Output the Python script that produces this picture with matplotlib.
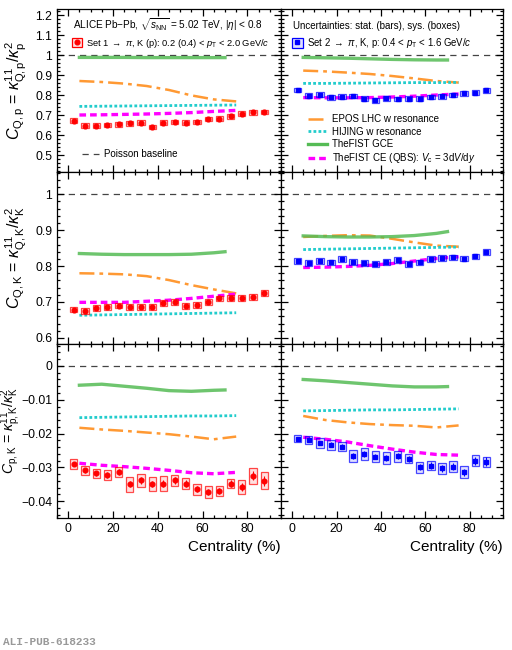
import matplotlib
matplotlib.use('Agg')
import matplotlib.pyplot as plt
from matplotlib.ticker import MultipleLocator
from matplotlib.patches import Rectangle
from matplotlib.lines import Line2D
from matplotlib.legend_handler import HandlerTuple

plt.rcParams['font.family'] = ['Liberation Sans', 'DejaVu Sans']
plt.rcParams['mathtext.fontset'] = 'custom'
plt.rcParams['mathtext.rm'] = 'Liberation Sans'
plt.rcParams['mathtext.it'] = 'Liberation Sans:italic'
plt.rcParams['mathtext.bf'] = 'Liberation Sans:bold'

# centrality bins 0-5 ... 85-90
cent = [2.5, 7.5, 12.5, 17.5, 22.5, 27.5, 32.5, 37.5, 42.5, 47.5,
        52.5, 57.5, 62.5, 67.5, 72.5, 77.5, 82.5, 87.5]
x_mod = [5, 15, 25, 35, 45, 55, 65, 75]
x_gce = [5, 15, 25, 35, 45, 55, 65, 70]

# ---- C_Q,p ----
qp1 = [0.672, 0.647, 0.647, 0.650, 0.653, 0.658, 0.662, 0.640, 0.662,
       0.665, 0.662, 0.665, 0.680, 0.682, 0.693, 0.707, 0.713, 0.715]
qp2 = [0.825, 0.797, 0.802, 0.788, 0.792, 0.795, 0.782, 0.773, 0.783,
       0.780, 0.782, 0.782, 0.790, 0.793, 0.800, 0.808, 0.812, 0.823]
qp_sys = [0.011] * 18
qp_stat = [0.003] * 18
epos_qp1 = [0.870, 0.865, 0.857, 0.845, 0.825, 0.798, 0.778, 0.768]
hijing_qp1 = [0.743, 0.744, 0.745, 0.746, 0.747, 0.748, 0.749, 0.750]
gce_qp1 = [0.988, 0.988, 0.988, 0.987, 0.987, 0.987, 0.987, 0.987]
ce_qp1 = [0.700, 0.701, 0.703, 0.705, 0.708, 0.712, 0.718, 0.723]
epos_qp2 = [0.922, 0.918, 0.912, 0.905, 0.895, 0.883, 0.870, 0.862]
hijing_qp2 = [0.858, 0.858, 0.859, 0.860, 0.861, 0.862, 0.862, 0.863]
gce_qp2 = [0.988, 0.986, 0.984, 0.981, 0.978, 0.976, 0.975, 0.975]
ce_qp2 = [0.787, 0.786, 0.786, 0.787, 0.790, 0.794, 0.800, 0.805]

# ---- C_Q,K ----
qk1 = [0.679, 0.675, 0.684, 0.686, 0.690, 0.687, 0.687, 0.687, 0.697,
       0.699, 0.689, 0.691, 0.701, 0.710, 0.711, 0.712, 0.713, 0.726]
qk2 = [0.814, 0.809, 0.815, 0.810, 0.820, 0.812, 0.809, 0.805, 0.812,
       0.816, 0.806, 0.810, 0.820, 0.822, 0.824, 0.821, 0.827, 0.839]
qk_sys = [0.008] * 18
qk_stat = [0.003] * 18
epos_qk1 = [0.780, 0.779, 0.777, 0.772, 0.761, 0.747, 0.735, 0.724]
hijing_qk1 = [0.663, 0.664, 0.665, 0.666, 0.667, 0.668, 0.669, 0.670]
gce_qk1 = [0.835, 0.833, 0.832, 0.832, 0.832, 0.833, 0.837, 0.840]
ce_qk1 = [0.699, 0.699, 0.699, 0.702, 0.705, 0.710, 0.716, 0.722]
epos_qk2 = [0.881, 0.884, 0.886, 0.885, 0.876, 0.866, 0.857, 0.854]
hijing_qk2 = [0.846, 0.847, 0.848, 0.849, 0.850, 0.851, 0.852, 0.853]
gce_qk2 = [0.884, 0.882, 0.881, 0.881, 0.882, 0.885, 0.891, 0.896]
ce_qk2 = [0.796, 0.797, 0.799, 0.802, 0.807, 0.814, 0.821, 0.826]

# ---- C_p,K ----
pk1 = [-0.0290, -0.0309, -0.0318, -0.0323, -0.0314, -0.0350, -0.0339, -0.0349, -0.0348,
       -0.0339, -0.0348, -0.0365, -0.0373, -0.0370, -0.0348, -0.0359, -0.0325, -0.0340]
pk1_sys = [0.0016, 0.0014, 0.0014, 0.0014, 0.0014, 0.0022, 0.0018, 0.0021, 0.0021,
           0.0017, 0.0016, 0.0016, 0.0017, 0.0016, 0.0013, 0.0021, 0.0023, 0.0025]
pk1_stat = [0.0007, 0.0008, 0.0008, 0.0008, 0.0008, 0.0009, 0.0009, 0.0009, 0.0009,
            0.0009, 0.0009, 0.0009, 0.0010, 0.0010, 0.0010, 0.0012, 0.0013, 0.0015]
pk2 = [-0.0215, -0.0218, -0.0228, -0.0233, -0.0239, -0.0266, -0.0261, -0.0268, -0.0272,
       -0.0267, -0.0275, -0.0300, -0.0295, -0.0303, -0.0298, -0.0315, -0.0280, -0.0283]
pk2_sys = [0.0011, 0.0012, 0.0014, 0.0015, 0.0013, 0.0017, 0.0018, 0.0017, 0.0018,
           0.0016, 0.0013, 0.0016, 0.0014, 0.0017, 0.0016, 0.0018, 0.0015, 0.0015]
pk2_stat = [0.0006, 0.0007, 0.0007, 0.0007, 0.0008, 0.0008, 0.0008, 0.0008, 0.0009,
            0.0009, 0.0009, 0.0009, 0.0010, 0.0010, 0.0010, 0.0011, 0.0012, 0.0013]
epos_pk1 = [-0.0183, -0.0188, -0.0192, -0.0197, -0.0202, -0.0209, -0.0217, -0.0209]
hijing_pk1 = [-0.0153, -0.0152, -0.0151, -0.0150, -0.0149, -0.0148, -0.0148, -0.0147]
gce_pk1 = [-0.0057, -0.0054, -0.0060, -0.0066, -0.0073, -0.0075, -0.0072, -0.0071]
ce_pk1 = [-0.0288, -0.0294, -0.0298, -0.0303, -0.0309, -0.0316, -0.0319, -0.0315]
epos_pk2 = [-0.0148, -0.0160, -0.0167, -0.0172, -0.0175, -0.0177, -0.0182, -0.0176]
hijing_pk2 = [-0.0133, -0.0132, -0.0131, -0.0130, -0.0130, -0.0129, -0.0128, -0.0127]
gce_pk2 = [-0.0040, -0.0044, -0.0049, -0.0054, -0.0059, -0.0062, -0.0062, -0.0061]
ce_pk2 = [-0.0211, -0.0217, -0.0225, -0.0236, -0.0246, -0.0255, -0.0262, -0.0264]

ylabels = [r'$C_{\rm Q,p}$ = $\kappa^{11}_{\rm Q,p}/\kappa^{2}_{\rm p}$',
           r'$C_{\rm Q,K}$ = $\kappa^{11}_{\rm Q,K}/\kappa^{2}_{\rm K}$',
           r'$C_{\rm p,K}$ = $\kappa^{11}_{\rm p,K}/\kappa^{2}_{\rm K}$']
ytick_vals = [[0.5, 0.6, 0.7, 0.8, 0.9, 1.0, 1.1, 1.2],
              [0.6, 0.7, 0.8, 0.9, 1.0],
              [-0.04, -0.03, -0.02, -0.01, 0.0]]
ytick_text = [['0.5', '0.6', '0.7', '0.8', '0.9', '1', '1.1', '1.2'],
              ['0.6', '0.7', '0.8', '0.9', '1'],
              ['\u22120.04', '\u22120.03', '\u22120.02', '\u22120.01', '0']]

c_epos = '#ff9933'
c_hij = '#22cccc'
c_gce = '#55bb55'
c_ce = '#ff00ff'
c_set1 = '#ff0000'
c_set2 = '#0000ff'
ls_epos = (0, (6, 2, 1.5, 2))
ls_hij = (0, (1, 0.8))
ls_ce = (0, (2, 1.2))
ls_base = (0, (5, 4))

fig = plt.figure(figsize=(5.12, 6.5), dpi=100)
W, H = 512., 650.
col_x = [(57, 224), (281, 222)]
row_y = [(9, 172), (172, 344), (344, 518)]
ylims = [(0.415, 1.23), (0.583, 1.062), (-0.045, 0.0065)]
ymin_ = [0.02, 0.02, 0.002]
baseline = [1.0, 1.0, 0.0]
label_x = [-0.125, -0.125, -0.15]
label_fs = [11.5, 11.5, 10.2]

data = [
    [(qp1, qp_stat, qp_sys, epos_qp1, hijing_qp1, gce_qp1, ce_qp1),
     (qp2, qp_stat, qp_sys, epos_qp2, hijing_qp2, gce_qp2, ce_qp2)],
    [(qk1, qk_stat, qk_sys, epos_qk1, hijing_qk1, gce_qk1, ce_qk1),
     (qk2, qk_stat, qk_sys, epos_qk2, hijing_qk2, gce_qk2, ce_qk2)],
    [(pk1, pk1_stat, pk1_sys, epos_pk1, hijing_pk1, gce_pk1, ce_pk1),
     (pk2, pk2_stat, pk2_sys, epos_pk2, hijing_pk2, gce_pk2, ce_pk2)],
]

axes = {}
for r in range(3):
    for c in range(2):
        x0, w = col_x[c]
        y0, y1 = row_y[r]
        ax = fig.add_axes([x0 / W, 1 - y1 / H, w / W, (y1 - y0) / H])
        axes[(r, c)] = ax
        vals, stat, sys_, epos, hij, gce, ce = data[r][c]
        col = c_set1 if c == 0 else c_set2
        ax.axhline(baseline[r], color='#444444', ls=ls_base, lw=0.9, zorder=1)
        ax.plot(x_mod, epos, color=c_epos, ls=ls_epos, lw=1.8, zorder=2)
        ax.plot(x_mod, hij, color=c_hij, ls=ls_hij, lw=2.0, zorder=2)
        ax.plot(x_gce, gce, color=c_gce, ls='-', lw=2.4, alpha=0.85, zorder=2)
        ax.plot(x_mod, ce, color=c_ce, ls=ls_ce, lw=2.4, zorder=3)
        bottoms = [v - s for v, s in zip(vals, sys_)]
        heights = [2 * s for s in sys_]
        ax.bar(cent, heights, bottom=bottoms, width=3.3, facecolor=col, alpha=0.12,
               edgecolor='none', zorder=4)
        ax.bar(cent, heights, bottom=bottoms, width=3.3, facecolor='none',
               edgecolor=col, lw=0.9, alpha=0.7, zorder=4)
        ax.errorbar(cent, vals, yerr=stat, fmt='o' if c == 0 else 's', color=col,
                    ms=3.4 if c == 0 else 2.6, elinewidth=0.8, capsize=0, zorder=5)
        ax.set_xlim(-5, 95)
        ax.xaxis.set_major_locator(MultipleLocator(20))
        ax.xaxis.set_minor_locator(MultipleLocator(5))
        ax.set_yticks(ytick_vals[r])
        ax.yaxis.set_minor_locator(MultipleLocator(ymin_[r]))
        ax.set_ylim(*ylims[r])
        ax.tick_params(which='both', direction='in', top=True, right=True,
                       labelsize=8.8, width=0.9)
        ax.tick_params(which='major', length=5)
        ax.tick_params(which='minor', length=2.5)
        for sp in ax.spines.values():
            sp.set_linewidth(0.9)
        if r < 2:
            ax.set_xticklabels([])
        else:
            ax.set_xlabel('Centrality (%)', fontsize=11, ha='right', x=1.0)
        if c == 1:
            ax.set_yticklabels([])
        else:
            ax.set_yticklabels(ytick_text[r])
            ax.set_ylabel(ylabels[r], fontsize=label_fs[r])
            ax.yaxis.set_label_coords(label_x[r], 0.5)

hmap = {tuple: HandlerTuple(ndivide=1)}

# top-left annotations
a = axes[(0, 0)]
a.text(0.07, 0.905, r'ALICE Pb$-$Pb, $\sqrt{s_{\rm NN}}$ = 5.02 TeV, $|\eta|$ < 0.8',
       transform=a.transAxes, fontsize=7.2, va='center')
h1 = (Rectangle((0, 0), 1, 1, fc=(1, 0, 0, 0.12), ec=c_set1, lw=0.9),
      Line2D([], [], ls='none', marker='o', color=c_set1, ms=3.4))
leg1 = a.legend([h1], [r'Set 1 $\rightarrow$ $\pi$, K (p): 0.2 (0.4) < $p_{\rm T}$ < 2.0 GeV/$c$'],
                loc='center left', bbox_to_anchor=(0.065, 0.79), frameon=False,
                handlelength=1.1, handleheight=1.1, handletextpad=0.45,
                fontsize=6.7, handler_map=hmap, borderpad=0, borderaxespad=0)
a.add_artist(leg1)
a.legend([Line2D([], [], color='#444444', ls=ls_base, lw=0.9)], ['Poisson baseline'],
         loc='center left', bbox_to_anchor=(0.11, 0.11), frameon=False,
         handlelength=1.8, handletextpad=0.5, fontsize=7.0, borderpad=0, borderaxespad=0)

# top-right annotations
b = axes[(0, 1)]
b.text(0.055, 0.895, 'Uncertainties: stat. (bars), sys. (boxes)',
       transform=b.transAxes, fontsize=7.0, va='center')
h2 = (Rectangle((0, 0), 1, 1, fc=(0, 0, 1, 0.12), ec=c_set2, lw=0.9),
      Line2D([], [], ls='none', marker='s', color=c_set2, ms=2.6))
leg2 = b.legend([h2], [r'Set 2 $\rightarrow$ $\pi$, K, p: 0.4 < $p_{\rm T}$ < 1.6 GeV/$c$'],
                loc='center left', bbox_to_anchor=(0.05, 0.79), frameon=False,
                handlelength=1.1, handleheight=1.1, handletextpad=0.45,
                fontsize=6.9, handler_map=hmap, borderpad=0, borderaxespad=0)
b.add_artist(leg2)
mh = [Line2D([], [], color=c_epos, ls=ls_epos, lw=1.8),
      Line2D([], [], color=c_hij, ls=ls_hij, lw=2.0),
      Line2D([], [], color=c_gce, ls='-', lw=2.4),
      Line2D([], [], color=c_ce, ls=ls_ce, lw=2.4)]
ml = ['EPOS LHC w resonance', 'HIJING w resonance', 'TheFIST GCE',
      r'TheFIST CE (QBS): $V_{\rm c}$ = 3d$V$/d$y$']
b.legend(mh, ml, loc='lower left', bbox_to_anchor=(0.12, 0.04), frameon=False,
         handlelength=2.0, handletextpad=0.5, fontsize=7.0, labelspacing=0.25,
         borderpad=0, borderaxespad=0)

fig.text(0.006, 0.008, 'ALI-PUB-618233', fontsize=8, color='#999999',
         family=['Liberation Mono', 'DejaVu Sans Mono'], fontweight='bold')

fig.savefig('out.png', dpi=100)
